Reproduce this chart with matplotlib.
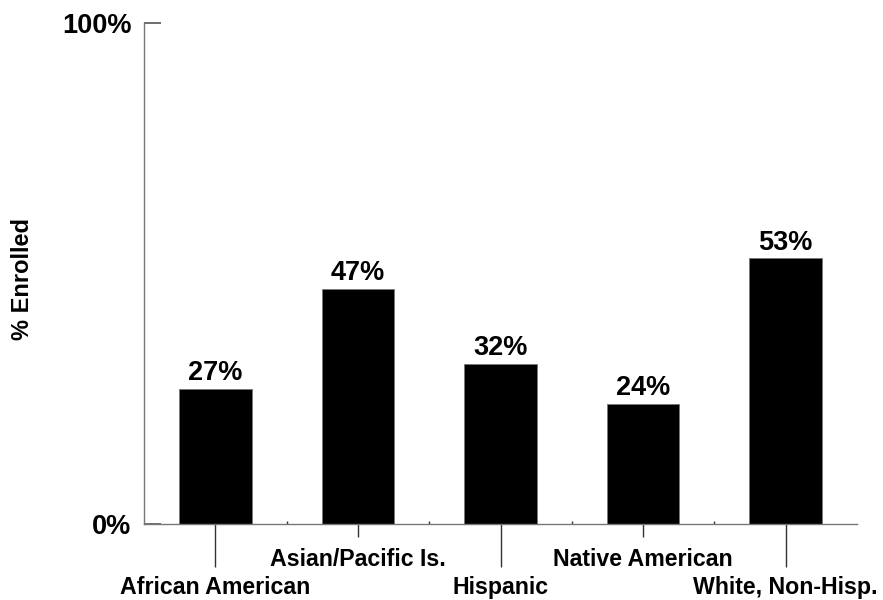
import matplotlib.pyplot as plt
from matplotlib.ticker import FixedLocator

# Enrollment share by group
groups = ["African American", "Asian/Pacific Is.", "Hispanic",
          "Native American", "White, Non-Hisp."]
enrolled = [27, 47, 32, 24, 53]

plt.rcParams['font.family'] = ['Liberation Sans', 'DejaVu Sans']
plt.rcParams['font.weight'] = 'bold'

fig = plt.figure(figsize=(8.83, 6.0), dpi=100)
ax = fig.add_axes([144 / 883, 76 / 600, 713 / 883, 501 / 600])

x = list(range(len(groups)))
bars = ax.bar(x, enrolled, width=0.51, color='black', edgecolor='#777777', linewidth=0.6)

# value labels above each bar
for xi, v in zip(x, enrolled):
    ax.annotate(f"{v}%", (xi, v), xytext=(0, 2), textcoords='offset points',
                ha='center', va='bottom', fontsize=19.5, fontweight='bold')

ax.set_xlim(-0.5, len(groups) - 0.5)
ax.set_ylim(0, 100)

# y axis: only 0% and 100%, ticks pointing in
ax.set_yticks([0, 100])
ax.set_yticklabels(["0%", "100%"], fontsize=19.5, fontweight='bold')
ax.tick_params(axis='y', direction='in', length=12.5, width=1.2, color='#555555', pad=9)

# x axis: staggered category labels, long/short ticks drawn as lines
ax.set_xticks(x)
ax.set_xticklabels(groups, fontsize=16.7, fontweight='bold')
ax.tick_params(axis='x', which='major', length=0)
tick_len = [-0.086 if i % 2 == 0 else -0.026 for i in x]
ax.vlines(x, tick_len, 0, transform=ax.get_xaxis_transform(), clip_on=False,
          color='#333333', linewidth=1.0)
for i, tick in enumerate(ax.xaxis.get_major_ticks()):
    tick.set_pad(37.5 if i % 2 == 0 else 17.3)

ax.xaxis.set_minor_locator(FixedLocator([0.5, 1.5, 2.5, 3.5]))
ax.tick_params(axis='x', which='minor', direction='in', length=2.5, width=1.0, color='#333333')

for side in ['top', 'right']:
    ax.spines[side].set_visible(False)
for side in ['left', 'bottom']:
    ax.spines[side].set_color('#777777')
    ax.spines[side].set_linewidth(1.0)

ax.set_ylabel("% Enrolled", fontsize=17, fontweight='bold')
ax.yaxis.set_label_coords(-0.154, 0.49)

plt.savefig("out.png", dpi=100)
